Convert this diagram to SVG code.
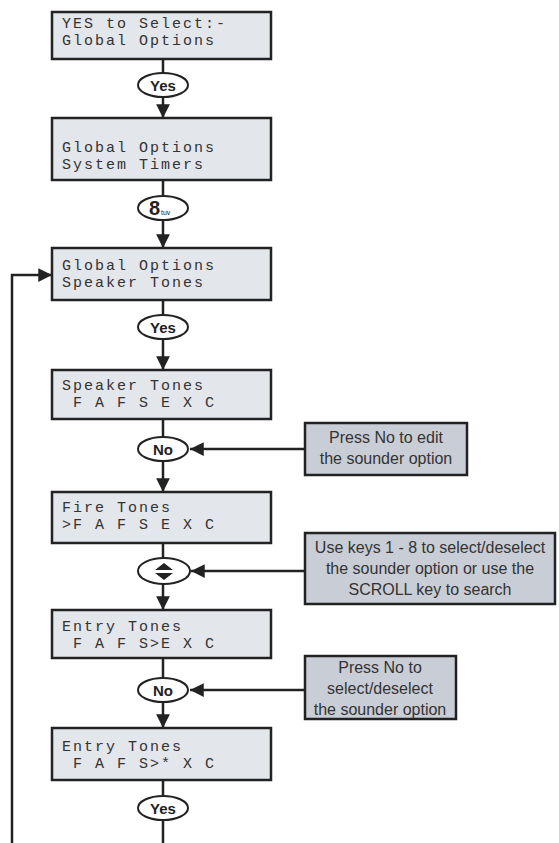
<svg xmlns="http://www.w3.org/2000/svg" width="559" height="843" viewBox="0 0 559 843">
<defs>
<style>
.lcd{fill:#e3e6eb;stroke:#222;stroke-width:2.5}
.lt{font-family:"Liberation Mono","DejaVu Sans Mono",monospace;font-size:15px;letter-spacing:2px;fill:#333;white-space:pre}
.key{fill:#fff;stroke:#222;stroke-width:2}
.kt{font-family:"Liberation Sans",Arial,sans-serif;font-weight:bold;font-size:15px;fill:#222;text-anchor:middle}
.note{fill:#c9cdd5;stroke:#222;stroke-width:2.5}
.nt{font-family:"Liberation Sans",Arial,sans-serif;font-size:16px;fill:#333;text-anchor:middle}
.ln{fill:none;stroke:#222;stroke-width:2.5}
</style>
<marker id="ah" viewBox="0 0 10 10" refX="10" refY="5" markerWidth="5.5" markerHeight="5.5" orient="auto" markerUnits="strokeWidth">
<path d="M0,0 L10,5 L0,10 z" fill="#222"/>
</marker>
</defs>

<g id="connectors">
<path class="ln" d="M163,59 V73"/>
<path class="ln" d="M163,97 V118" marker-end="url(#ah)"/>
<path class="ln" d="M163,180 V196"/>
<path class="ln" d="M163,220 V248" marker-end="url(#ah)"/>
<path class="ln" d="M163,300 V315"/>
<path class="ln" d="M163,339 V370" marker-end="url(#ah)"/>
<path class="ln" d="M163,419 V437"/>
<path class="ln" d="M163,461 V492" marker-end="url(#ah)"/>
<path class="ln" d="M163,543 V558"/>
<path class="ln" d="M163,584 V610" marker-end="url(#ah)"/>
<path class="ln" d="M163,658 V678"/>
<path class="ln" d="M163,702 V728" marker-end="url(#ah)"/>
<path class="ln" d="M163,780 V796"/>
<path class="ln" d="M163,820 V843"/>
<path class="ln" d="M12,843 V275 H52" marker-end="url(#ah)"/>
<path class="ln" d="M305,449 H190" marker-end="url(#ah)"/>
<path class="ln" d="M305,571 H191" marker-end="url(#ah)"/>
<path class="ln" d="M305,690 H190" marker-end="url(#ah)"/>
</g>

<g id="box1">
<rect class="lcd" x="52" y="12" width="219" height="47"/>
<text class="lt" x="62" y="28">YES to Select:-</text>
<text class="lt" x="62" y="45">Global Options</text>
</g>
<g id="key-yes1">
<ellipse class="key" cx="163" cy="85" rx="25" ry="12"/>
<text class="kt" x="163" y="90.5">Yes</text>
</g>

<g id="box2">
<rect class="lcd" x="52" y="118" width="219" height="62"/>
<text class="lt" x="62" y="152">Global Options</text>
<text class="lt" x="62" y="169">System Timers</text>
</g>
<g id="key-8">
<ellipse class="key" cx="163" cy="208" rx="25" ry="12"/>
<text font-family="Liberation Sans,Arial,sans-serif" font-weight="bold" font-size="20" fill="#222" x="149" y="215">8</text>
<text font-family="Liberation Sans,Arial,sans-serif" font-size="7" fill="#222" x="161" y="215">tuv</text>
</g>

<g id="box3">
<rect class="lcd" x="52" y="248" width="219" height="52"/>
<text class="lt" x="62" y="270">Global Options</text>
<text class="lt" x="62" y="287">Speaker Tones</text>
</g>
<g id="key-yes2">
<ellipse class="key" cx="163" cy="327" rx="25" ry="12"/>
<text class="kt" x="163" y="332.5">Yes</text>
</g>

<g id="box4">
<rect class="lcd" x="52" y="370" width="219" height="49"/>
<text class="lt" x="62" y="390">Speaker Tones</text>
<text class="lt" x="62" y="407"> F A F S E X C</text>
</g>
<g id="key-no1">
<ellipse class="key" cx="163" cy="449" rx="25" ry="12"/>
<text class="kt" x="163" y="454.5">No</text>
</g>
<g id="note1">
<rect class="note" x="305" y="423" width="162" height="52"/>
<text class="nt" x="386" y="443">Press No to edit</text>
<text class="nt" x="386" y="464">the sounder option</text>
</g>

<g id="box5">
<rect class="lcd" x="52" y="492" width="219" height="51"/>
<text class="lt" x="62" y="512">Fire Tones</text>
<text class="lt" x="62" y="529">&gt;F A F S E X C</text>
</g>
<g id="key-scroll">
<ellipse class="key" cx="164" cy="571" rx="26" ry="13"/>
<path d="M155,570 L164,563 L173,570 Z M155,573 L164,580 L173,573 Z" fill="#222"/>
</g>
<g id="note2">
<rect class="note" x="305" y="533" width="250" height="71"/>
<text class="nt" x="430" y="553">Use keys 1 - 8 to select/deselect</text>
<text class="nt" x="430" y="574">the sounder option or use the</text>
<text class="nt" x="430" y="595">SCROLL key to search</text>
</g>

<g id="box6">
<rect class="lcd" x="52" y="610" width="219" height="48"/>
<text class="lt" x="62" y="631">Entry Tones</text>
<text class="lt" x="62" y="648"> F A F S&gt;E X C</text>
</g>
<g id="key-no2">
<ellipse class="key" cx="163" cy="690" rx="25" ry="12"/>
<text class="kt" x="163" y="695.5">No</text>
</g>
<g id="note3">
<rect class="note" x="305" y="656" width="151" height="63"/>
<text class="nt" x="380" y="673">Press No to</text>
<text class="nt" x="380" y="694">select/deselect</text>
<text class="nt" x="380" y="715">the sounder option</text>
</g>

<g id="box7">
<rect class="lcd" x="52" y="728" width="219" height="52"/>
<text class="lt" x="62" y="751">Entry Tones</text>
<text class="lt" x="62" y="768"> F A F S&gt;* X C</text>
</g>
<g id="key-yes3">
<ellipse class="key" cx="163" cy="808" rx="25" ry="12"/>
<text class="kt" x="163" y="813.5">Yes</text>
</g>
</svg>
